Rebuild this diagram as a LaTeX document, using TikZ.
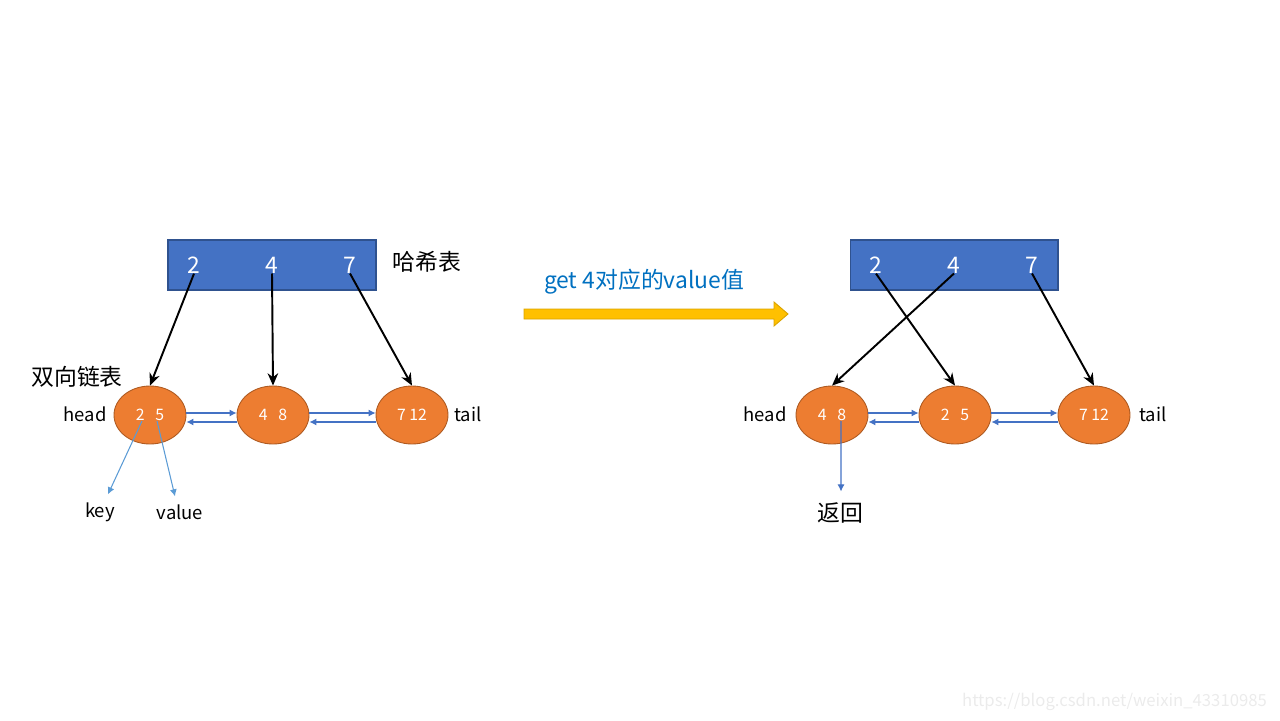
\documentclass[tikz,border=0pt]{standalone}
\usepackage{fontspec}
\setmainfont{Noto Sans CJK SC}
\usepackage{xcolor}
\usetikzlibrary{shapes.geometric}
\usetikzlibrary{arrows.meta}
\definecolor{tblue}{HTML}{4472C4}
\definecolor{tblueline}{HTML}{2F528F}
\definecolor{lorange}{HTML}{ED7D31}
\definecolor{lorangeline}{HTML}{AE5A21}
\definecolor{kvblue}{HTML}{5B9BD5}
\definecolor{getblue}{HTML}{0070C0}
\definecolor{ayellow}{HTML}{FFC000}
\definecolor{ayellowline}{HTML}{D9A300}
\definecolor{wmgray}{HTML}{EBEBEB}

\begin{document}
\begin{tikzpicture}
	[x=0.02cm,y=-0.02cm,
	table/.style = {
		draw=tblueline, fill=tblue, line width=0.6, minimum width=4.16cm, minimum height=1cm
	},
	key/.style = {
		text=white, inner sep=0, font=\fontsize{13}{15}\selectfont
	},
	listnode/.style = {
		ellipse, draw=lorangeline, fill=lorange, line width=0.5, text=white,
		minimum width=1.44cm, minimum height=1.16cm, inner sep=0,
		font=\fontsize{9}{11}\selectfont
	},
	ptr/.style = {
		-{Stealth[length=7pt,width=6pt]}, line width=1.1
	},
	link/.style = {
		-{Latex[length=4pt,width=4pt]}, draw=tblue, line width=0.6
	},
	kv/.style = {
		-{Latex[length=4pt,width=4pt]}, draw=kvblue, line width=0.6
	},
	lbl/.style = {
		font=\fontsize{10.5}{13}\selectfont
	},
	title/.style = {
		font=\fontsize{13}{15}\selectfont
	}]
	\useasboundingbox (0,0) rectangle (1280,720);

	%Draw nodes (before)
	\node[table] at (272,265) (tabA) {};
	\node[key] at (194,265) (ak2) {2};
	\node[key] at (272,265) (ak4) {4};
	\node[key] at (350,265) (ak7) {7};
	\node[title] at (427,262) (hashA) {哈希表};
	\node[title] at (77,377) (listA) {双向链表};
	\node[listnode] at (150,415) (a1) {2\hspace{6pt}5};
	\node[listnode] at (273,415) (a2) {4\hspace{6pt}8};
	\node[listnode] at (412,415) (a3) {7 12};
	\node[lbl] at (85,414) (headA) {head};
	\node[lbl] at (468,414) (tailA) {tail};
	\node[lbl] at (100,512) (keyA) {key};
	\node[lbl] at (180,512) (valA) {value};

	%Draw nodes (after)
	\node[table] at (954,265) (tabB) {};
	\node[key] at (876,265) (bk2) {2};
	\node[key] at (954,265) (bk4) {4};
	\node[key] at (1032,265) (bk7) {7};
	\node[listnode] at (832,415) (b1) {4\hspace{6pt}8};
	\node[listnode] at (955,415) (b2) {2\hspace{6pt}5};
	\node[listnode] at (1094,415) (b3) {7 12};
	\node[lbl] at (765,414) (headB) {head};
	\node[lbl] at (1153,414) (tailB) {tail};
	\node[title] at (840,513) (ret) {返回};

	%Draw middle arrow
	\node[title, text=getblue] at (644,282) (get) {get 4对应的value值};
	\draw[draw=ayellowline, fill=ayellow, line width=0.5]
	(524,309) -- (774,309) -- (774,302) -- (788,314) -- (774,326) -- (774,319) -- (524,319) -- cycle;

	%Draw wires (before)
	\draw[ptr] (ak2.south) -- (a1.north);
	\draw[ptr] (ak4.south) -- (a2.north);
	\draw[ptr] (ak7.south) -- (a3.north);
	\draw[link] ([yshift=0.04cm]a1.east) -- ([yshift=0.04cm]a2.west);
	\draw[link] ([yshift=-0.14cm]a2.west) -- ([yshift=-0.14cm]a1.east);
	\draw[link] ([yshift=0.04cm]a2.east) -- ([yshift=0.04cm]a3.west);
	\draw[link] ([yshift=-0.14cm]a3.west) -- ([yshift=-0.14cm]a2.east);
	\draw[kv] ([xshift=-0.16cm,yshift=-0.12cm]a1.center) -- ([xshift=0.16cm,yshift=0.04cm]keyA.north);
	\draw[kv] ([xshift=0.14cm,yshift=-0.12cm]a1.center) -- ([xshift=-0.1cm,yshift=0.04cm]valA.north);

	%Draw wires (after)
	\draw[ptr] (bk2.south) -- (b2.north);
	\draw[ptr] (bk4.south) -- (b1.north);
	\draw[ptr] (bk7.south) -- (b3.north);
	\draw[link] ([yshift=0.04cm]b1.east) -- ([yshift=0.04cm]b2.west);
	\draw[link] ([yshift=-0.14cm]b2.west) -- ([yshift=-0.14cm]b1.east);
	\draw[link] ([yshift=0.04cm]b2.east) -- ([yshift=0.04cm]b3.west);
	\draw[link] ([yshift=-0.14cm]b3.west) -- ([yshift=-0.14cm]b2.east);
	\draw[link] ([xshift=0.18cm,yshift=-0.12cm]b1.center) -- ([xshift=0.02cm,yshift=0.1cm]ret.north);

	\node[text=wmgray, anchor=east, font=\fontsize{9.5}{11}\selectfont] at (1273,702) (mark) {https://blog.csdn.net/weixin\_43310985};
\end{tikzpicture}
\end{document}
